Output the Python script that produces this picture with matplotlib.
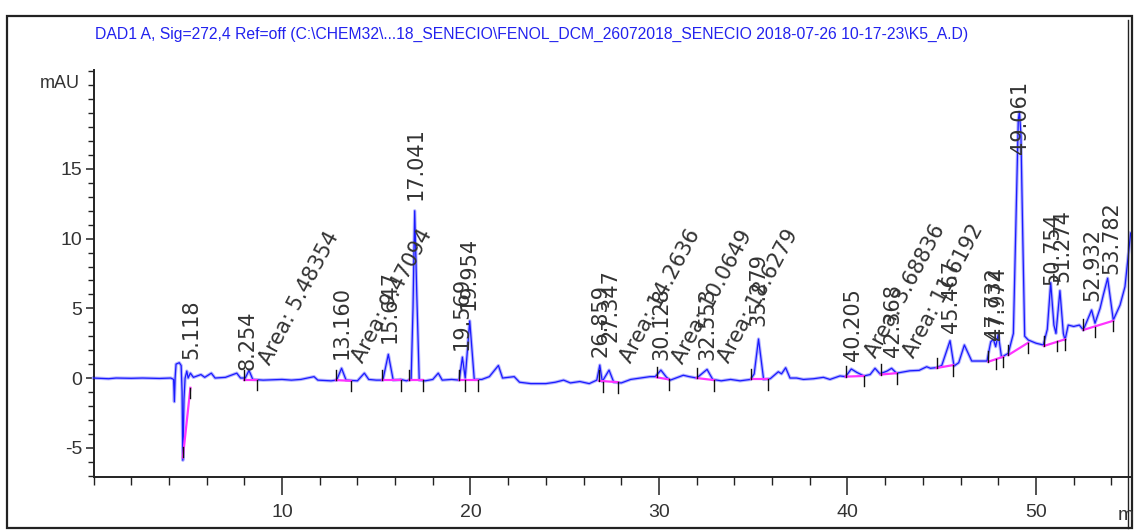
import matplotlib
matplotlib.use("Agg")
import matplotlib.pyplot as plt
from matplotlib import font_manager
from matplotlib.ticker import MultipleLocator

# ── fonts ────────────────────────────────────────────────────
_names = {f.name for f in font_manager.fontManager.ttflist}
NARROW = "Liberation Sans Narrow" if "Liberation Sans Narrow" in _names else "Liberation Sans"

plt.rcParams.update({
    "font.family": "DejaVu Sans",
    "axes.unicode_minus": False,
})

# ── data: chromatogram trace (min, mAU) ──────────────────────
trace_t = [0.0, 0.8, 1.2, 2.0, 2.6, 3.5, 4.1, 4.25, 4.29, 4.33, 4.38, 4.55, 4.65,
           4.70, 4.74, 4.80, 4.86, 4.95, 5.02, 5.14, 5.3, 5.7, 5.9, 6.25, 6.45,
           7.0, 7.6, 7.8, 8.05, 8.25, 8.45, 9.0, 10.0, 10.5, 11.0, 11.7, 11.9,
           12.6, 12.9, 13.16, 13.4, 14.0, 14.37, 14.6, 15.0, 15.35, 15.64, 15.9,
           16.3, 16.6, 16.85, 16.95, 17.04, 17.15, 17.28, 17.6, 18.0, 18.29, 18.5,
           19.0, 19.4, 19.57, 19.72, 19.96, 20.2, 20.6, 21.0, 21.48, 21.7, 22.32,
           22.6, 23.2, 24.0, 24.5, 24.94, 25.3, 25.8, 26.3, 26.7, 26.86, 26.99,
           27.35, 27.6, 28.0, 28.5, 29.0, 29.52, 29.8, 30.1, 30.4, 30.6, 31.29,
           31.6, 32.0, 32.55, 32.85, 33.3, 33.8, 34.3, 34.86, 35.05, 35.28, 35.55,
           35.9, 36.33, 36.5, 36.72, 36.95, 37.3, 37.66, 38.2, 38.72, 39.07, 39.6,
           39.9, 40.2, 40.5, 40.87, 41.2, 41.46, 41.72, 42.1, 42.34, 42.6, 43.31,
           43.8, 44.2, 44.4, 44.73, 45.0, 45.44, 45.65, 45.9, 46.2, 46.59, 47.0,
           47.4, 47.6, 47.74, 47.86, 48.0, 48.17, 48.53, 48.8, 48.95, 49.06,
           49.12, 49.2, 49.3, 49.4, 49.59, 50.0, 50.39, 50.6, 50.78, 50.95, 51.06,
           51.27, 51.45, 51.54, 51.71, 52.0, 52.3, 52.51, 52.95, 53.13, 53.4,
           53.57, 53.8, 54.1, 54.46, 54.72, 55.02]
trace_v = [0.0, -0.05, 0.0, -0.02, 0.0, -0.03, 0.0, -0.1, -1.7, 0.0, 1.0, 1.1, 0.9,
           -1.0, -5.9, -1.5, 0.0, 0.5, 0.0, 0.35, 0.05, 0.25, 0.05, 0.35, 0.0,
           0.05, 0.35, 0.0, 0.0, 0.55, -0.1, -0.15, -0.1, -0.15, -0.1, 0.1, -0.15,
           -0.2, -0.15, 0.7, -0.15, -0.2, 0.35, -0.1, -0.15, -0.15, 1.7, -0.15,
           -0.1, -0.2, -0.1, 5.0, 12.0, 6.0, -0.15, -0.2, -0.1, 0.35, -0.15,
           -0.1, -0.15, 1.5, 0.0, 4.1, -0.1, -0.1, 0.1, 0.9, 0.0, 0.1,
           -0.3, -0.4, -0.4, -0.3, -0.15, -0.35, -0.25, -0.4, -0.15, 0.93, -0.25,
           0.57, -0.3, -0.35, -0.1, 0.0, 0.1, 0.1, 0.57, 0.05, -0.15, 0.2,
           0.1, 0.0, 0.62, -0.1, -0.2, -0.1, -0.2, -0.1, 0.3, 2.8, -0.1,
           -0.05, 0.45, 0.3, 0.74, 0.0, 0.0, -0.1, -0.05, 0.05, -0.1, 0.15,
           0.1, 0.65, 0.4, 0.15, 0.25, 0.7, 0.3, 0.5, 0.7, 0.35, 0.52,
           0.55, 0.81, 0.7, 0.75, 0.9, 2.68, 0.86, 1.1, 2.37, 1.22, 1.22,
           1.22, 2.6, 2.78, 2.25, 3.13, 1.5, 1.77, 3.2, 12.0, 18.5,
           19.1, 17.5, 10.0, 3.0, 2.73, 2.5, 2.37, 3.5, 6.84, 3.8, 3.2,
           6.27, 3.2, 2.73, 3.8, 3.7, 3.8, 3.45, 4.88, 3.93, 5.0,
           5.96, 7.16, 4.16, 5.24, 6.55, 10.4]

# integration baselines: start/end (min, mAU), plus split marks
base_t0 = [4.74, 8.00, 12.86, 15.32, 16.75, 19.37, 26.82, 29.88, 32.00, 34.86,
           39.90, 41.76, 44.73, 47.47, 48.53, 50.42, 52.51]
base_v0 = [-5.7, -0.14, -0.15, -0.15, -0.15, -0.15, -0.20, 0.05, 0.00, -0.10,
           0.10, 0.25, 0.72, 1.17, 1.65, 2.30, 3.45]
base_t1 = [5.14, 8.69, 13.66, 16.30, 17.46, 20.41, 27.84, 30.53, 32.93, 35.77,
           40.87, 42.60, 45.61, 48.26, 49.59, 51.54, 54.10]
base_v1 = [-0.7, -0.14, -0.20, -0.15, -0.15, -0.15, -0.30, -0.10, -0.15, -0.10,
           0.15, 0.35, 0.93, 1.53, 2.54, 2.78, 4.11]
split_t = [19.72, 27.01, 47.86, 51.10, 53.13]
split_v = [-0.15, -0.25, 1.40, 2.68, 3.68]

# retention time labels (text, x, bottom of label)
rt_text = ["5.118", "8.254", "13.160", "15.647", "17.041", "19.569", "19.954",
           "26.859", "27.347", "30.128", "32.553", "35.279", "40.205", "42.368",
           "45.467", "47.732", "47.974", "49.061", "50.754", "51.274", "52.932",
           "53.782"]
rt_t = [5.17, 8.20, 13.18, 15.73, 17.10, 19.55, 19.93, 26.92, 27.45, 30.10, 32.57,
        35.28, 40.29, 42.44, 45.50, 47.75, 47.96, 49.15, 50.85, 51.38, 52.97, 53.98]
rt_v = [1.4, 0.6, 1.4, 2.5, 12.8, 2.0, 4.9, 1.5, 2.6, 1.3, 1.3,
        3.7, 1.2, 1.5, 3.2, 2.7, 2.7, 16.1, 6.7, 6.9, 5.5, 7.5]

# manual-integration area notes
area_text = ["Area: 5.48354", "Area: 9.47094", "Area: 14.2636", "Area: 10.0649",
             "Area: 18.6279", "Area: 3.68836", "Area: 11.6192"]
area_t = [8.62, 13.57, 27.75, 30.50, 32.97, 40.75, 42.78]
area_v = [0.7, 0.9, 0.9, 0.8, 0.9, 1.2, 1.2]

title = ("DAD1 A, Sig=272,4 Ref=off (C:\\CHEM32\\...18_SENECIO\\FENOL_DCM_26072018_"
         "SENECIO 2018-07-26 10-17-23\\K5_A.D)")

# ── canvas ───────────────────────────────────────────────────
W, H = 1134, 532
fig = plt.figure(figsize=(W / 100, H / 100), dpi=100, facecolor="white")

# outer frame
fig.add_artist(plt.Rectangle((7 / W, 1 - 528 / H), (1132 - 7) / W, (528 - 16) / H,
                             transform=fig.transFigure, fill=False,
                             edgecolor="#222222", linewidth=1.6))
fig.add_artist(plt.Line2D([1128 / W, 1128 / W], [1 - 528 / H, 1 - 20 / H],
                          transform=fig.transFigure, color="#222222", linewidth=1.0))

ax = fig.add_axes([93.5 / W, (H - 477) / H, (1131 - 93.5) / W, (477 - 70) / H])
ax.set_xlim(0, 55.04)
ax.set_ylim(-7.1, 22.1)
for s in ["top", "right"]:
    ax.spines[s].set_visible(False)
for s in ["left", "bottom"]:
    ax.spines[s].set_linewidth(1.4)
    ax.spines[s].set_color("#222222")

ax.xaxis.set_minor_locator(MultipleLocator(2))
ax.yaxis.set_minor_locator(MultipleLocator(1))
ax.set_xticks([10, 20, 30, 40, 50])
ax.set_yticks([-5, 0, 5, 10, 15])
ax.tick_params(axis="x", which="major", length=13, width=1.1, pad=6.5,
               labelsize=14, colors="#222222")
ax.tick_params(axis="x", which="minor", length=6, width=1.0, colors="#222222")
ax.tick_params(axis="y", which="major", length=6, width=1.1, pad=2,
               labelsize=14, colors="#222222")
ax.tick_params(axis="y", which="minor", length=4, width=1.0, colors="#222222")
for lab in ax.get_xticklabels() + ax.get_yticklabels():
    lab.set_family(NARROW)
    lab.set_color("#333333")

# trace
ax.plot(trace_t, trace_v, color="#b4b4ff", linewidth=2.4, clip_on=False, zorder=2)
ax.plot(trace_t, trace_v, color="#1a1aff", linewidth=0.9, clip_on=False, zorder=3)

# baselines + marks
tick_h = 0.75
for t0, v0, t1, v1 in zip(base_t0, base_v0, base_t1, base_v1):
    ax.plot([t0, t1], [v0, v1], color="#ff33ff", linewidth=1.6, zorder=4)
    ax.plot([t0, t0], [v0, v0 + tick_h], color="#111111", linewidth=1.0, zorder=5)
    ax.plot([t1, t1], [v1, v1 - tick_h], color="#111111", linewidth=1.0, zorder=5)
for t, v in zip(split_t, split_v):
    ax.plot([t, t], [v, v - tick_h], color="#111111", linewidth=1.0, zorder=5)

# labels
for s, t, v in zip(rt_text, rt_t, rt_v):
    ax.text(t, v, s, rotation=90, ha="center", va="bottom",
            fontsize=15, color="#333333", zorder=6, clip_on=False)
for s, t, v in zip(area_text, area_t, area_v):
    ax.text(t, v, s, rotation=62, ha="left", va="bottom",
            fontsize=15, color="#333333", zorder=6)

fig.text(95 / W, 1 - 34 / H, title, ha="left", va="center",
         fontsize=11.3, color="#2222ee", family=NARROW)
fig.text(80 / W, 1 - 83 / H, "mAU", ha="right", va="center",
         fontsize=13, color="#333333", family=NARROW)
fig.text(1118 / W, 1 - 515 / H, "min", ha="left", va="center",
         fontsize=14, color="#333333", family=NARROW)

fig.savefig("out.png", dpi=100, facecolor="white")
